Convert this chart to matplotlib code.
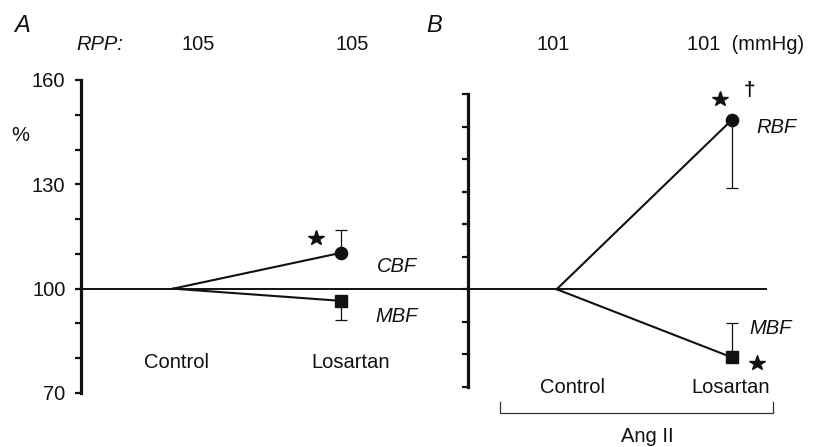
import matplotlib
matplotlib.use('Agg')
import matplotlib.pyplot as plt
from matplotlib.transforms import offset_copy
from matplotlib.lines import Line2D

# data (% of control)
groups = ['Control', 'Losartan']
xpos = [0, 1]
cbf_a = [100, 110.3]
cbf_a_err = 6.7
mbf_a = [100, 96.5]
mbf_a_err = 5.4
rbf_b = [100, 152.0]
rbf_b_err = 20.8
mbf_b = [100, 79.1]
mbf_b_err = 10.6
rpp_a = ['105', '105']
rpp_b = ['101', '101']
yticks = list(range(70, 161, 10))
ylabels = ['70', '', '', '100', '', '', '130', '', '', '160']

W, H = 828, 447
INK = '#111111'
FS = 14.5

plt.rcParams['font.family'] = ['Liberation Sans', 'DejaVu Sans']
fig = plt.figure(figsize=(W / 100, H / 100), dpi=100)


def fx(px):
	return px / W


def fy(py):
	return 1 - py / H


def ftext(px, py, s, **kw):
	kw.setdefault('fontsize', FS)
	kw.setdefault('ha', 'center')
	kw.setdefault('va', 'baseline')
	fig.text(fx(px), fy(py), s, color=INK, **kw)


def style_axis(ax, labels):
	for side in ['top', 'right', 'bottom']:
		ax.spines[side].set_visible(False)
	ax.spines['left'].set_linewidth(2.3)
	ax.spines['left'].set_color(INK)
	ax.set_ylim(70, 160)
	ax.set_yticks(yticks)
	ax.set_yticklabels(labels, fontsize=FS, color=INK)
	ax.tick_params(axis='y', length=4.5, width=1.6, pad=6.5, color=INK)
	ax.set_xticks([])
	ax.patch.set_visible(False)


def draw_series(ax, y, err, marker, up):
	ax.plot(xpos, y, '-', color=INK, lw=1.5, zorder=3)
	yerr = [[0], [err]] if up else [[err], [0]]
	ax.errorbar(xpos[1], y[1], yerr=yerr, fmt='none', ecolor=INK,
				elinewidth=0.9, capsize=4.5, capthick=0.9, zorder=2)
	ax.plot(xpos[1], y[1], marker, color=INK, ms=8.8 if marker == 'o' else 8.2, zorder=4)


def star(ax, x, y, dx, dy):
	tr = offset_copy(ax.transData, fig=fig, x=dx, y=dy, units='points')
	ax.plot(x, y, marker='*', color=INK, ms=11.5, transform=tr, clip_on=False, zorder=5)


# panel A
ax_a = fig.add_axes([fx(80.7), fy(393), fx(468) - fx(80.7), (393 - 80) / H])
style_axis(ax_a, ylabels)
ax_a.set_xlim((80.7 - 173) / 168, (468 - 173) / 168)
ax_a.axhline(100, color=INK, lw=1.4, zorder=1)
draw_series(ax_a, cbf_a, cbf_a_err, 'o', True)
draw_series(ax_a, mbf_a, mbf_a_err, 's', False)
star(ax_a, xpos[1], cbf_a[1], -18.2, 10.8)

# panel B (its own, slightly tighter scale; 100 level lines up with panel A)
ax_b = fig.add_axes([fx(468.3), fy(386.9), fx(828) - fx(468.3), (386.9 - 94) / H])
style_axis(ax_b, [''] * len(yticks))
ax_b.set_xlim((468.3 - 556.7) / 175, (828 - 556.7) / 175)
ax_b.axhline(100, xmin=0, xmax=(766 - 468.3) / (828 - 468.3), color=INK, lw=1.4, zorder=1)
draw_series(ax_b, rbf_b, rbf_b_err, 'o', False)
draw_series(ax_b, mbf_b, mbf_b_err, 's', True)
star(ax_b, xpos[1], rbf_b[1], -8.4, 14.9)
star(ax_b, xpos[1], mbf_b[1], 18, -4.3)
ax_b.annotate('\u2020', (xpos[1], rbf_b[1]), xytext=(12.7, 21.0), textcoords='offset points',
			  ha='center', va='center', fontsize=15, fontweight='bold', color=INK,
			  annotation_clip=False)

# headers
ftext(21.7, 32, 'A', fontsize=17, style='italic')
ftext(434, 31.7, 'B', fontsize=17, style='italic')
ftext(100, 50, 'RPP:', style='italic')
ftext(198.3, 50, rpp_a[0])
ftext(352.5, 50, rpp_a[1])
ftext(553, 50, rpp_b[0])
ftext(686.7, 50, rpp_b[1] + '  (mmHg)', ha='left')
ftext(20.5, 141, '%')

# series labels
ftext(396.7, 271.5, 'CBF', style='italic')
ftext(397, 321.5, 'MBF', style='italic')
ftext(776.7, 133, 'RBF', style='italic')
ftext(771, 334, 'MBF', style='italic')

# group labels
ftext(176.7, 368, groups[0])
ftext(350.8, 368, groups[1])
ftext(572.5, 393, groups[0])
ftext(730.3, 393, groups[1])

# Ang II bracket
bx = [fx(500), fx(500), fx(773), fx(773)]
by = [fy(401.7), fy(413), fy(413), fy(401.7)]
fig.add_artist(Line2D(bx, by, transform=fig.transFigure, color='#333333', lw=0.9))
ftext(647.5, 442.5, 'Ang II')

fig.savefig('out.png', dpi=100)
